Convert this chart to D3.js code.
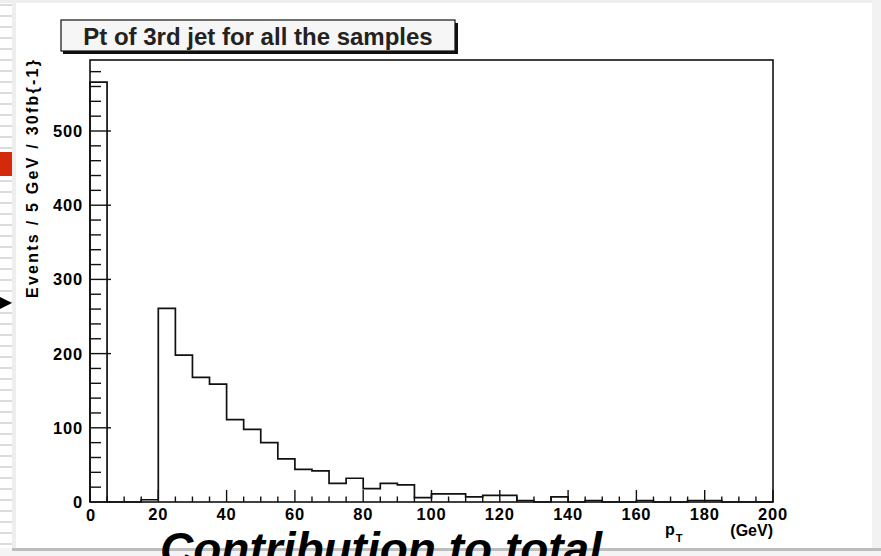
<!DOCTYPE html>
<html>
<head>
<meta charset="utf-8">
<script src="https://cdn.jsdelivr.net/npm/d3@7"></script>
<style>
  html, body { margin: 0; padding: 0; background: #ffffff; }
  svg { display: block; }
  text { font-family: "Liberation Sans", Arial, Helvetica, sans-serif; }
</style>
</head>
<body>
<svg id="chart" width="881" height="556"></svg>
<script>
// ---- data ----
const binEdges = [0,5,10,15,20,25,30,35,40,45,50,55,60,65,70,75,80,85,90,95,
                  100,105,110,115,120,125,130,135,140,145,150,155,160,165,170,175,180,185,190,195];
const binWidth = 5;
const counts = [566,0,0,3,261,198,168,159,111,98,80,58,44,42,25,32,18,25,23,6,
                11,11,7,9,9,2,0,7,0,2,0,0,2,0,0,2,2,0,0,0];
const xTickLabels = [0,20,40,60,80,100,120,140,160,180,200];
const yTickLabels = [0,100,200,300,400,500];
const titleText = "Pt of 3rd jet for all the samples";
const yTitle = "Events / 5 GeV / 30fb{-1}";
const bottomText = "Contribution to total";

const svg = d3.select("#chart");

// ---- slide decoration ----
svg.append("rect").attr("x", 0).attr("y", 0).attr("width", 881).attr("height", 556).attr("fill", "#ffffff");
svg.append("rect").attr("x", 0).attr("y", 0).attr("width", 881).attr("height", 3).attr("fill", "#eeeeee");
svg.append("rect").attr("x", 872).attr("y", 0).attr("width", 9).attr("height", 556).attr("fill", "#f2f2f2");
svg.append("rect").attr("x", 12).attr("y", 0).attr("width", 4).attr("height", 550).attr("fill", "#eeeeee");
const stripes = d3.range(4, 550, 11);
svg.append("g").selectAll("rect").data(stripes).join("rect")
  .attr("x", 0).attr("y", d => d).attr("width", 12).attr("height", 2).attr("fill", "#dcdcdc");
svg.append("rect").attr("x", 0).attr("y", 152).attr("width", 12).attr("height", 24).attr("fill", "#d42a0c");
svg.append("path").attr("d", "M0,297 L12,303 L0,309 Z").attr("fill", "#000");
svg.append("rect").attr("x", 0).attr("y", 548).attr("width", 881).attr("height", 8).attr("fill", "#f4f4f4");
svg.append("rect").attr("x", 12).attr("y", 548).attr("width", 869).attr("height", 3).attr("fill", "#bdbdbd");
svg.append("text").attr("x", 160).attr("y", 565)
  .attr("font-size", 46).attr("font-weight", "bold").attr("font-style", "italic")
  .attr("fill", "#000").text(bottomText);

// ---- scales ----
const x = d3.scaleLinear().domain([0, 200]).range([90, 773]);
const y = d3.scaleLinear().domain([0, 595.7]).range([502, 60]);

// ---- histogram outline ----
let pts = [[0, 0]];
binEdges.forEach((e, i) => {
  pts.push([e, counts[i]]);
  pts.push([e + binWidth, counts[i]]);
});
pts.push([200, 0]);
const line = d3.line().x(d => x(d[0])).y(d => y(d[1]));
svg.append("path").attr("d", line(pts))
  .attr("fill", "none").attr("stroke", "#111").attr("stroke-width", 1.7);

// ---- frame ----
svg.append("rect").attr("x", x(0)).attr("y", y(595.7))
  .attr("width", x(200) - x(0)).attr("height", y(0) - y(595.7))
  .attr("fill", "none").attr("stroke", "#111").attr("stroke-width", 1.6);

// ---- x axis ticks ----
const gx = svg.append("g");
const xMinor = d3.range(0, 201, 5);
gx.selectAll("line.minor").data(xMinor).join("line")
  .attr("x1", d => x(d)).attr("x2", d => x(d))
  .attr("y1", y(0)).attr("y2", d => y(0) - (d % 20 === 0 ? 12 : 5.5))
  .attr("stroke", "#111").attr("stroke-width", 1.4);
gx.selectAll("text").data(xTickLabels).join("text")
  .attr("x", d => x(d) + (d === 0 ? 1 : 0)).attr("y", d => d === 0 ? 521 : 520)
  .attr("text-anchor", "middle").attr("font-size", 16.5).attr("font-weight", "bold")
  .attr("letter-spacing", 0.8)
  .text(d => d);

// ---- y axis ticks ----
const gy = svg.append("g");
const yMinor = d3.range(0, 581, 20);
gy.selectAll("line").data(yMinor).join("line")
  .attr("x1", x(0)).attr("x2", d => x(0) + (d % 100 === 0 ? 21 : 11))
  .attr("y1", d => y(d)).attr("y2", d => y(d))
  .attr("stroke", "#111").attr("stroke-width", 1.4);
gy.selectAll("text").data(yTickLabels).join("text")
  .attr("x", 83).attr("y", d => y(d) + 6)
  .attr("text-anchor", "end").attr("font-size", 16.5).attr("font-weight", "bold")
  .attr("letter-spacing", 0.8)
  .text(d => d);

// ---- axis titles ----
svg.append("text")
  .attr("transform", "translate(38,60) rotate(-90)")
  .attr("text-anchor", "end").attr("font-size", 16).attr("font-weight", "bold")
  .attr("textLength", 238).attr("lengthAdjust", "spacing")
  .text(yTitle);

const pt = svg.append("text").attr("x", 665).attr("y", 535)
  .attr("font-size", 16).attr("font-weight", "bold");
pt.append("tspan").text("p");
pt.append("tspan").attr("font-size", 11).attr("dy", 7).attr("dx", 1).text("T");
svg.append("text").attr("x", 773).attr("y", 536)
  .attr("text-anchor", "end").attr("font-size", 16).attr("font-weight", "bold")
  .text("(GeV)");

// ---- title box ----
const tb = svg.append("g");
tb.append("rect").attr("x", 63).attr("y", 23).attr("width", 395).attr("height", 31).attr("fill", "#111");
tb.append("rect").attr("x", 61).attr("y", 20).attr("width", 394).attr("height", 31)
  .attr("fill", "#f6f6f6").attr("stroke", "#111").attr("stroke-width", 1.2);
tb.append("text").attr("x", 258).attr("y", 44.5).attr("text-anchor", "middle")
  .attr("font-size", 24).attr("font-weight", "bold").attr("fill", "#222")
  .text(titleText);
</script>
</body>
</html>
